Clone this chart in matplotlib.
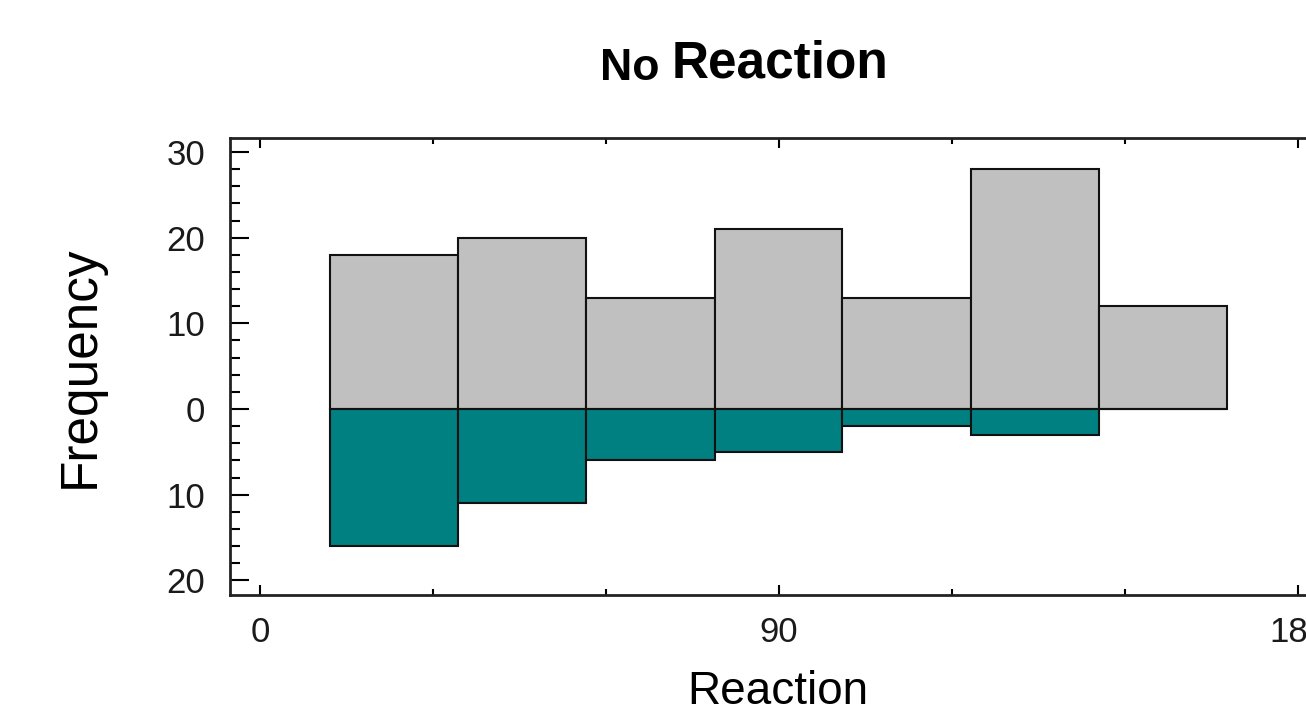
import matplotlib
matplotlib.use("Agg")
import matplotlib.pyplot as plt
from matplotlib.ticker import MultipleLocator, FixedLocator, FuncFormatter

plt.rcParams['font.family'] = ['Liberation Sans', 'DejaVu Sans']

# Data
bin_edges = [12.1, 34.4, 56.6, 78.9, 101.0, 123.3, 145.5, 167.7]
upper_counts = [18, 20, 13, 21, 13, 28, 12]   # No Reaction (grey, above zero)
lower_counts = [16, 11, 6, 5, 2, 3, 0]        # Reaction (teal, below zero)
x_ticks = [0, 90, 180]
x_minor = [30, 60, 120, 150]
y_ticks = [-20, -10, 0, 10, 20, 30]

W, H = 1306, 709
fig = plt.figure(figsize=(W / 100, H / 100), dpi=100)
ax_left, ax_right, ax_top, ax_bottom = 230, 1340, 138, 595
ax = fig.add_axes([ax_left / W, (H - ax_bottom) / H,
                   (ax_right - ax_left) / W, (ax_bottom - ax_top) / H])

widths = [bin_edges[i + 1] - bin_edges[i] for i in range(len(upper_counts))]
lefts = bin_edges[:-1]
ax.bar(lefts, upper_counts, width=widths, align='edge', color='#c0c0c0',
       edgecolor='#111111', linewidth=1.5, zorder=2)
ax.bar(lefts, [-v for v in lower_counts], width=widths, align='edge', color='#008080',
       edgecolor='#111111', linewidth=1.5, zorder=2)

px_per_x = 519 / 90.0
px_per_y = 257 / 30.0
x0_px, y0_px = 260, 409
ax.set_xlim((ax_left - x0_px) / px_per_x, (ax_right - x0_px) / px_per_x)
ax.set_ylim(-(ax_bottom - y0_px) / px_per_y, (y0_px - ax_top) / px_per_y)

ax.xaxis.set_major_locator(FixedLocator(x_ticks))
ax.xaxis.set_minor_locator(FixedLocator(x_minor))
ax.yaxis.set_major_locator(FixedLocator(y_ticks))
ax.yaxis.set_minor_locator(MultipleLocator(2))
ax.yaxis.set_major_formatter(FuncFormatter(lambda v, p: f"{abs(int(round(v)))}"))

ax.tick_params(axis='x', which='major', direction='in', length=7, width=1.5,
               top=True, bottom=True, labelsize=25, pad=15, labelcolor='#1a1a1a')
ax.tick_params(axis='x', which='minor', direction='in', length=4, width=1.5,
               top=True, bottom=True)
ax.tick_params(axis='y', which='major', direction='in', length=14, width=1.5,
               left=True, right=True, labelsize=25, pad=18, labelcolor='#1a1a1a')
ax.tick_params(axis='y', which='minor', direction='in', length=7, width=1.5,
               left=True, right=True)
for s in ax.spines.values():
    s.set_linewidth(2)
    s.set_color('#222222')

fig.text(600 / W, (H - 80) / H, "No", fontsize=32, fontweight='bold',
         ha='left', va='baseline')
fig.text(672 / W, (H - 78) / H, "Reaction", fontsize=37, fontweight='bold',
         ha='left', va='baseline')

fig.text(778 / W, (H - 704) / H, "Reaction", fontsize=33, ha='center', va='baseline')
fig.text(80 / W, (H - 367) / H, "Frequency", fontsize=37, rotation=90,
         ha='center', va='center')

fig.savefig("out.png", dpi=100)
